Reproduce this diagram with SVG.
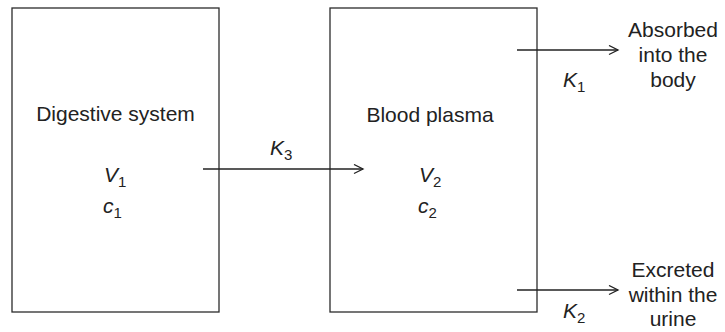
<svg xmlns="http://www.w3.org/2000/svg" width="725" height="332" viewBox="0 0 725 332">
<defs>
<style>
.box{fill:#fff;stroke:#2b2b2b;stroke-width:1.3}
.t{font-family:"Liberation Sans",Arial,sans-serif;font-size:21px;fill:#222}
.c{text-anchor:middle}
.i{font-style:italic}
.s{font-size:15px;font-style:normal}
.ln{stroke:#222;stroke-width:1.3;fill:none}
</style>
<marker id="ah" markerUnits="userSpaceOnUse" markerWidth="12" markerHeight="12" refX="10" refY="5" orient="auto">
<path d="M1,0.5 L10,5 L1,9.5" fill="none" stroke="#222" stroke-width="1.3"/>
</marker>
</defs>
<rect width="725" height="332" fill="#fff"/>
<g id="digestive">
<rect class="box" x="12" y="8" width="207" height="304"/>
<text class="t c" x="115.5" y="121">Digestive system</text>
<text class="t i" x="104" y="182">V<tspan class="s" dy="5">1</tspan></text>
<text class="t i" x="103" y="213">c<tspan class="s" dy="5">1</tspan></text>
</g>
<g id="plasma">
<rect class="box" x="330" y="8" width="207" height="304"/>
<text class="t c" x="430" y="122">Blood plasma</text>
<text class="t i" x="419" y="182">V<tspan class="s" dy="5">2</tspan></text>
<text class="t i" x="418" y="213">c<tspan class="s" dy="5">2</tspan></text>
</g>
<g id="absorbed">
<text class="t c" x="673" y="37">Absorbed</text>
<text class="t c" x="673" y="62">into the</text>
<text class="t c" x="673" y="87">body</text>
</g>
<g id="excreted">
<text class="t c" x="673" y="277">Excreted</text>
<text class="t c" x="673" y="302">within the</text>
<text class="t c" x="673" y="326">urine</text>
</g>
<g id="connectors">
<line class="ln" x1="203" y1="169" x2="363" y2="169" marker-end="url(#ah)"/>
<line class="ln" x1="517" y1="50" x2="618" y2="50" marker-end="url(#ah)"/>
<line class="ln" x1="517" y1="290" x2="618" y2="290" marker-end="url(#ah)"/>
<text class="t i" x="270" y="155">K<tspan class="s" dy="5">3</tspan></text>
<text class="t i" x="563" y="87">K<tspan class="s" dy="5">1</tspan></text>
<text class="t i" x="563" y="318">K<tspan class="s" dy="5">2</tspan></text>
</g>
</svg>
